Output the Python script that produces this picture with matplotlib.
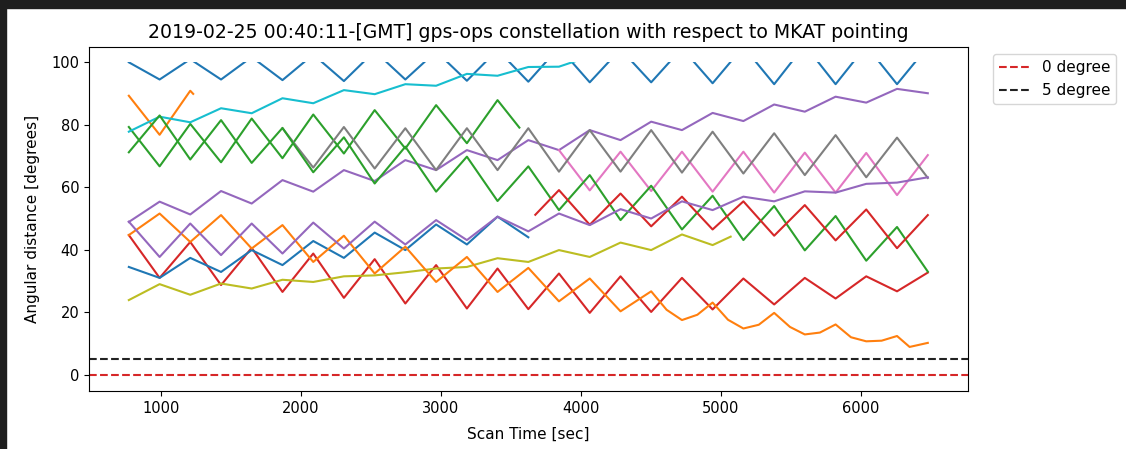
import numpy as np
import matplotlib
matplotlib.use("Agg")
import matplotlib.pyplot as plt
from matplotlib.patches import Rectangle

# Scan turning points (seconds) shared by most satellite tracks
scan_time = [770, 990, 1209, 1429, 1648, 1868, 2088, 2307, 2527, 2746,
             2966, 3186, 3405, 3625, 3844, 4064, 4284, 4503, 4723, 4942,
             5162, 5382, 5601, 5821, 6040, 6260, 6480]

# Angular distance of each satellite at the scan turning points [deg]
sat_top_blue = [100.0, 94.5, 101.0, 94.5, 101.7, 94.3, 102.5, 94.0, 103.6, 94.5,
                103.5, 94.1, 104.0, 93.8, 104.8, 93.6, 104.2, 93.6, 104.5, 93.3,
                105.0, 93.0, 105.5, 93.0, 105.3, 93.0, 105.0]
sat_cyan = [77.8, 82.6, 80.8, 85.3, 83.7, 88.5, 86.9, 91.1, 89.8, 93.0,
            92.5, 96.3, 95.7, 98.5, 98.6, 101.9]
sat_orange_top_time = [770, 990, 1209, 1230]
sat_orange_top = [89.3, 76.8, 90.9, 89.9]
sat_green_a_time = scan_time[:13] + [3561]
sat_green_a = [79.3, 66.7, 80.3, 68.0, 82.0, 69.3, 83.3, 70.8, 84.7, 72.4,
               86.3, 74.1, 87.9, 79.1]
sat_green_b = [71.2, 83.0, 68.9, 81.5, 67.8, 79.0, 64.8, 76.0, 61.2, 73.0,
               58.6, 69.8, 55.6, 66.7, 52.7, 63.9, 49.5, 60.5, 46.5, 57.3,
               43.1, 54.0, 39.8, 50.8, 36.5, 47.3, 33.0]
sat_gray = [78.9, 66.3, 79.3, 66.0, 78.9, 65.5, 78.9, 65.5, 78.9, 65.0,
            78.3, 65.0, 78.3, 64.7, 77.8, 64.4, 77.3, 63.9, 76.7, 63.2,
            75.9, 63.0]                      # from scan_time[5]
sat_pink = [71.9, 59.0, 71.4, 58.8, 71.4, 58.6, 71.4, 58.3, 71.1, 58.3,
            71.0, 57.5, 70.3]                # from scan_time[14]
sat_purple_top = [48.9, 55.4, 51.3, 58.8, 54.8, 62.3, 58.6, 65.5, 62.0, 68.7,
                  65.5, 71.9, 68.7, 75.1, 71.9, 78.3, 75.1, 81.0, 78.3, 83.8,
                  81.2, 86.5, 84.2, 89.0, 87.1, 91.5, 90.1]
sat_purple_low = [49.0, 37.7, 48.4, 38.3, 48.4, 38.8, 48.7, 40.4, 49.0, 41.7,
                  49.5, 43.1, 50.6, 45.9, 51.6, 47.9, 53.0, 50.0, 55.5, 52.7,
                  57.0, 55.5, 58.7, 58.3, 61.1, 61.5, 63.2]
sat_blue_low = [34.5, 31.0, 37.4, 32.9, 39.9, 35.1, 42.8, 37.4, 45.5, 39.9,
                48.1, 41.7, 50.6, 44.0]
sat_orange_low_time = scan_time[:18] + [4613, 4723, 4833, 4942, 5052, 5162, 5272,
                                        5382, 5495, 5601, 5709, 5821, 5931, 6040,
                                        6150, 6260, 6350, 6480]
sat_orange_low = [44.7, 51.6, 42.5, 51.1, 40.4, 47.9, 36.1, 44.5, 32.4, 41.0,
                  29.7, 37.7, 26.5, 34.2, 23.5, 30.8, 20.3, 26.7,
                  20.8, 17.5, 19.2, 23.1, 17.6, 14.8, 16.0, 19.8, 15.3, 12.9,
                  13.5, 16.1, 12.0, 10.7, 10.9, 12.4, 8.9, 10.2]
sat_red_low = [44.7, 31.0, 42.5, 28.7, 40.6, 26.5, 38.8, 24.6, 37.0, 22.8,
               35.1, 21.2, 34.0, 21.0, 32.4, 19.8, 31.5, 20.1, 31.0, 20.9,
               30.8, 22.5, 31.0, 24.4, 31.5, 26.7, 32.7]
sat_red_top_time = [3675] + scan_time[14:]
sat_red_top = [51.2, 59.1, 48.0, 58.0, 47.5, 57.0, 46.5, 55.5, 44.5, 54.3,
               43.0, 52.9, 40.5, 51.1]
sat_olive_time = scan_time[:20] + [5071]
sat_olive = [23.9, 29.0, 25.6, 29.2, 27.6, 30.4, 29.7, 31.5, 31.8, 32.8,
             34.0, 34.5, 37.3, 36.1, 39.9, 37.7, 42.3, 39.9, 44.9, 41.5, 44.2]

horizon_levels = [0, 5]
horizon_labels = ["0 degree", "5 degree"]

tracks = [
    (scan_time, sat_top_blue, "#1f77b4"),
    (sat_orange_top_time, sat_orange_top, "#ff7f0e"),
    (sat_green_a_time, sat_green_a, "#2ca02c"),
    (scan_time, sat_red_low, "#d62728"),
    (scan_time, sat_purple_top, "#9467bd"),
    (scan_time[14:], sat_pink, "#e377c2"),
    (scan_time[5:], sat_gray, "#7f7f7f"),
    (sat_olive_time, sat_olive, "#bcbd22"),
    (scan_time[:16], sat_cyan, "#17becf"),
    (scan_time[:14], sat_blue_low, "#1f77b4"),
    (sat_orange_low_time, sat_orange_low, "#ff7f0e"),
    (scan_time, sat_green_b, "#2ca02c"),
    (sat_red_top_time, sat_red_top, "#d62728"),
    (scan_time, sat_purple_low, "#9467bd"),
]

fig = plt.figure(figsize=(11.26, 4.49), dpi=100)
fig.patch.set_facecolor("white")
ax = fig.add_axes([0.0790, 0.1292, 0.7804, 0.7668])

# angular distances beyond 100 deg are not shown
for t, v, c in tracks:
    line, = ax.plot(t, v, color=c, lw=1.5)
    line.set_clip_path(Rectangle((0, -50), 10000, 150, transform=ax.transData))

ax.axhline(horizon_levels[0], color="#d62728", ls="--", lw=1.5, label=horizon_labels[0])
ax.axhline(horizon_levels[1], color="#222222", ls="--", lw=1.5, label=horizon_labels[1])

ax.set_xlim(485, 6765)
ax.set_ylim(-5.2, 105)
ax.set_xticks([1000, 2000, 3000, 4000, 5000, 6000])
ax.set_yticks([0, 20, 40, 60, 80, 100])
ax.tick_params(labelsize=10.5)
ax.set_xlabel("Scan Time [sec]", fontsize=11, labelpad=8)
ax.set_ylabel("Angular distance [degrees]", fontsize=11, labelpad=8)
ax.set_title("2019-02-25 00:40:11-[GMT] gps-ops constellation with respect to MKAT pointing",
             fontsize=13.6)

ax.legend(loc="upper left", bbox_to_anchor=(1.02, 1.0), fontsize=11)

# dark border of the notebook frame
fig.patches.append(Rectangle((0, 1 - 8 / 449), 1, 8 / 449, transform=fig.transFigure,
                             color="#1e1e1e", zorder=10))
fig.patches.append(Rectangle((0, 0), 6 / 1126, 1, transform=fig.transFigure,
                             color="#1e1e1e", zorder=10))

fig.savefig("out.png", dpi=100)
